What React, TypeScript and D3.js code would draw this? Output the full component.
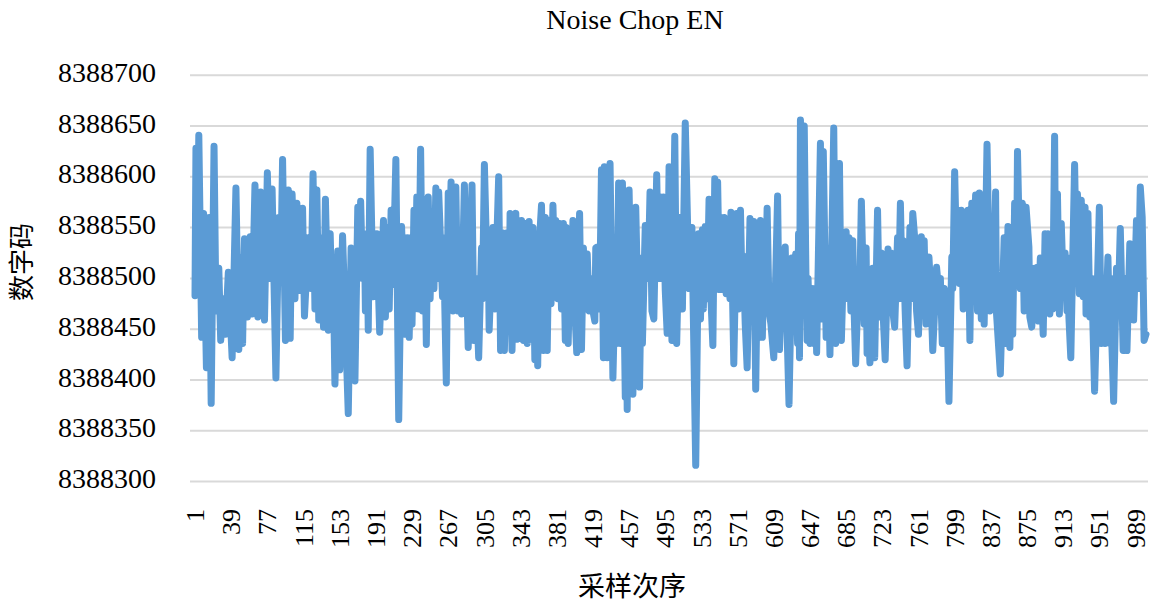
import React, { useRef, useEffect } from 'react';
import * as d3 from 'd3';

// sample index (x) and ADC code (y)
const sampleNo: number[] = [
  1, 2, 3, 5, 8, 10, 13, 16, 18, 21, 23, 26, 28, 31, 33, 36, 40, 44, 47, 49,
  51, 53, 56, 59, 61, 64, 67, 70, 74, 77, 80, 82, 86, 89, 91, 93, 96, 99, 101, 103,
  106, 108, 111, 114, 116, 120, 123, 125, 127, 129, 131, 134, 136, 138, 141, 143, 145, 146, 148, 151,
  153, 156, 162, 165, 169, 172, 173, 175, 177, 179, 180, 182, 183, 185, 188, 192, 195, 199, 201, 203,
  205, 207, 209, 212, 215, 218, 222, 224, 226, 228, 229, 231, 232, 234, 236, 238, 240, 242, 244, 246,
  248, 250, 252, 254, 256, 257, 261, 262, 265, 267, 268, 270, 272, 275, 277, 279, 281, 284, 288, 292,
  294, 296, 299, 302, 303, 305, 308, 309, 310, 314, 316, 320, 322, 324, 326, 329, 331, 332, 334, 336,
  338, 339, 341, 343, 344, 346, 348, 350, 352, 354, 356, 358, 359, 361, 363, 365, 367, 369, 371, 373,
  375, 377, 379, 380, 382, 384, 386, 388, 390, 391, 393, 395, 396, 398, 400, 402, 405, 407, 409, 411,
  413, 415, 417, 419, 421, 422, 424, 426, 428, 430, 431, 434, 437, 440, 443, 444, 446, 448, 450, 453,
  454, 455, 457, 461, 464, 468, 470, 471, 474, 477, 479, 481, 483, 486, 488, 490, 491, 493, 495, 497,
  499, 502, 505, 507, 510, 513, 516, 520, 523, 527, 530, 532, 534, 535, 537, 539, 541, 543, 545, 547,
  549, 550, 552, 553, 555, 557, 559, 561, 563, 564, 567, 570, 572, 574, 576, 577, 579, 581, 584, 586,
  588, 590, 592, 594, 595, 597, 599, 600, 602, 604, 606, 609, 613, 615, 618, 619, 621, 623, 625, 628,
  630, 632, 634, 635, 636, 637, 639, 641, 643, 644, 645, 647, 649, 651, 653, 654, 658, 659, 661, 664,
  666, 668, 672, 674, 678, 680, 683, 684, 685, 687, 688, 690, 692, 693, 695, 698, 699, 701, 704, 706,
  707, 708, 710, 713, 715, 718, 720, 722, 724, 726, 729, 731, 732, 734, 736, 739, 740, 742, 744, 745,
  747, 749, 752, 753, 755, 757, 759, 761, 764, 765, 767, 769, 772, 774, 776, 780, 782, 784, 786, 788,
  789, 791, 793, 796, 797, 799, 801, 802, 804, 806, 808, 810, 811, 813, 815, 817, 819, 821, 823, 825,
  827, 829, 830, 833, 836, 838, 840, 842, 843, 847, 851, 853, 855, 857, 859, 860, 862, 864, 865, 868,
  870, 872, 874, 877, 878, 880, 883, 885, 886, 887, 889, 892, 894, 896, 897, 899, 901, 902, 904, 905,
  907, 909, 911, 913, 915, 917, 918, 919, 921, 925, 927, 928, 930, 932, 934, 936, 937, 939, 941, 943,
  946, 951, 953, 955, 957, 960, 962, 963, 964, 966, 969, 971, 973, 976, 978, 980, 983, 987, 990, 992,
  994, 996, 998, 1000,
];

const codes: number[] = [
  8388483, 8388628, 8388490, 8388641, 8388442, 8388564, 8388412, 8388560, 8388377, 8388630, 8388468, 8388510, 8388439, 8388480, 8388445, 8388506, 8388422, 8388589, 8388430, 8388520,
  8388436, 8388539, 8388462, 8388541, 8388465, 8388592, 8388462, 8388585, 8388459, 8388604, 8388500, 8388588, 8388402, 8388560, 8388500, 8388617, 8388439, 8388587, 8388441, 8388583,
  8388480, 8388574, 8388488, 8388569, 8388463, 8388540, 8388490, 8388603, 8388470, 8388587, 8388459, 8388540, 8388452, 8388578, 8388449, 8388544, 8388470, 8388520, 8388396, 8388527,
  8388410, 8388542, 8388367, 8388530, 8388399, 8388570, 8388510, 8388576, 8388500, 8388544, 8388468, 8388520, 8388449, 8388627, 8388482, 8388544, 8388447, 8388557, 8388462, 8388550,
  8388470, 8388567, 8388494, 8388617, 8388361, 8388551, 8388445, 8388540, 8388442, 8388540, 8388455, 8388567, 8388470, 8388580, 8388470, 8388627, 8388468, 8388578, 8388435, 8388580,
  8388480, 8388560, 8388490, 8388589, 8388500, 8388585, 8388482, 8388540, 8388397, 8388584, 8388520, 8388595, 8388468, 8388590, 8388468, 8388510, 8388465, 8388592, 8388432, 8388592,
  8388439, 8388500, 8388422, 8388530, 8388480, 8388612, 8388500, 8388530, 8388449, 8388550, 8388470, 8388600, 8388429, 8388545, 8388429, 8388545, 8388470, 8388564, 8388429, 8388520,
  8388564, 8388440, 8388557, 8388480, 8388557, 8388439, 8388554, 8388436, 8388556, 8388440, 8388550, 8388420, 8388500, 8388414, 8388540, 8388572, 8388429, 8388560, 8388429, 8388557,
  8388475, 8388572, 8388500, 8388557, 8388480, 8388554, 8388470, 8388554, 8388439, 8388550, 8388436, 8388520, 8388470, 8388557, 8388470, 8388427, 8388564, 8388430, 8388530, 8388470,
  8388524, 8388468, 8388500, 8388468, 8388458, 8388530, 8388531, 8388470, 8388607, 8388422, 8388610, 8388422, 8388613, 8388402, 8388520, 8388436, 8388594, 8388436, 8388594, 8388383,
  8388500, 8388371, 8388587, 8388386, 8388570, 8388393, 8388520, 8388436, 8388552, 8388500, 8388585, 8388468, 8388460, 8388602, 8388500, 8388580, 8388500, 8388580, 8388488, 8388446,
  8388610, 8388439, 8388640, 8388436, 8388560, 8388470, 8388653, 8388490, 8388550, 8388316, 8388544, 8388460, 8388548, 8388470, 8388551, 8388480, 8388578, 8388480, 8388434, 8388598,
  8388500, 8388595, 8388489, 8388560, 8388489, 8388560, 8388485, 8388550, 8388480, 8388565, 8388416, 8388564, 8388470, 8388567, 8388475, 8388522, 8388455, 8388412, 8388559, 8388470,
  8388556, 8388391, 8388525, 8388442, 8388557, 8388442, 8388540, 8388468, 8388569, 8388468, 8388455, 8388422, 8388581, 8388430, 8388520, 8388468, 8388531, 8388446, 8388376, 8388520,
  8388470, 8388524, 8388436, 8388544, 8388422, 8388656, 8388540, 8388650, 8388485, 8388439, 8388500, 8388436, 8388490, 8388436, 8388490, 8388427, 8388633, 8388460, 8388625, 8388442,
  8388530, 8388425, 8388648, 8388436, 8388613, 8388439, 8388540, 8388490, 8388546, 8388480, 8388540, 8388468, 8388537, 8388480, 8388416, 8388500, 8388468, 8388576, 8388455, 8388530,
  8388426, 8388460, 8388417, 8388510, 8388422, 8388567, 8388462, 8388525, 8388462, 8388420, 8388529, 8388470, 8388525, 8388468, 8388452, 8388540, 8388480, 8388574, 8388480, 8388537,
  8388468, 8388414, 8388550, 8388480, 8388564, 8388540, 8388468, 8388445, 8388541, 8388480, 8388537, 8388455, 8388521, 8388485, 8388429, 8388511, 8388490, 8388500, 8388436, 8388490,
  8388436, 8388470, 8388379, 8388521, 8388490, 8388605, 8388520, 8388567, 8388495, 8388567, 8388470, 8388560, 8388500, 8388567, 8388439, 8388574, 8388500, 8388582, 8388468, 8388584,
  8388460, 8388520, 8388455, 8388632, 8388468, 8388540, 8388480, 8388585, 8388465, 8388406, 8388540, 8388436, 8388551, 8388432, 8388545, 8388445, 8388574, 8388500, 8388625, 8388490,
  8388574, 8388468, 8388570, 8388531, 8388462, 8388452, 8388510, 8388462, 8388511, 8388458, 8388520, 8388445, 8388544, 8388470, 8388544, 8388465, 8388525, 8388470, 8388640, 8388500,
  8388583, 8388465, 8388554, 8388494, 8388525, 8388468, 8388520, 8388462, 8388422, 8388612, 8388500, 8388583, 8388485, 8388577, 8388482, 8388570, 8388465, 8388564, 8388462, 8388500,
  8388389, 8388570, 8388436, 8388500, 8388436, 8388521, 8388436, 8388500, 8388440, 8388379, 8388510, 8388480, 8388549, 8388429, 8388500, 8388429, 8388534, 8388459, 8388557, 8388490,
  8388590, 8388560, 8388439, 8388445,
];

const xTickLabels: number[] = [
  1, 39, 77, 115, 153, 191, 229, 267, 305, 343, 381, 419, 457, 495, 533,
  571, 609, 647, 685, 723, 761, 799, 837, 875, 913, 951, 989,
];

const yTickLabels: number[] = [
  8388300, 8388350, 8388400, 8388450, 8388500, 8388550, 8388600, 8388650, 8388700,
];

const chartTitle = 'Noise Chop EN';
const xTitle = '采样次序';
const yTitle = '数字码';

const App: React.FC = () => {
  const svgRef = useRef<SVGSVGElement>(null);

  useEffect(() => {
    if (!svgRef.current) return;
    const svg = d3.select(svgRef.current);
    svg.selectAll('*').remove();

    const width = 1153;
    const height = 605;
    const plot = { left: 190, right: 1148, top: 75.2, bottom: 481.6 };
    const serif = '"Liberation Serif", "Times New Roman", serif';
    const cjk = '"Noto Sans CJK SC", sans-serif';

    const x = d3.scaleLinear().domain([1, 1000]).range([195, 1146]);
    const y = d3.scaleLinear().domain([8388300, 8388700]).range([plot.bottom, plot.top]);

    svg.append('rect').attr('width', width).attr('height', height).attr('fill', '#fff');

    // horizontal gridlines
    svg.append('g')
      .selectAll('line')
      .data(yTickLabels)
      .enter().append('line')
      .attr('x1', plot.left)
      .attr('x2', plot.right)
      .attr('y1', d => y(d))
      .attr('y2', d => y(d))
      .attr('stroke', '#d9d9d9')
      .attr('stroke-width', 2);

    // y tick labels
    svg.append('g')
      .selectAll('text')
      .data(yTickLabels)
      .enter().append('text')
      .attr('x', 156)
      .attr('y', d => y(d) + 6.5)
      .attr('text-anchor', 'end')
      .attr('font-family', serif)
      .attr('font-size', 28)
      .attr('fill', '#000')
      .text(d => d);

    // x tick labels, rotated
    svg.append('g')
      .selectAll('text')
      .data(xTickLabels)
      .enter().append('text')
      .attr('transform', d => `translate(${x(d)},509) rotate(-90)`)
      .attr('dy', '0.35em')
      .attr('text-anchor', 'end')
      .attr('font-family', serif)
      .attr('font-size', 26)
      .attr('fill', '#000')
      .text(d => d);

    // the series
    const points: [number, number][] = sampleNo.map((s, i) => [s, codes[i]]);
    const line = d3.line<[number, number]>()
      .x(d => x(d[0]))
      .y(d => y(d[1]));

    svg.append('path')
      .datum(points)
      .attr('d', line)
      .attr('fill', 'none')
      .attr('stroke', '#5b9bd5')
      .attr('stroke-width', 7)
      .attr('stroke-linejoin', 'round')
      .attr('stroke-linecap', 'round');

    // titles
    svg.append('text')
      .attr('x', 635)
      .attr('y', 29)
      .attr('text-anchor', 'middle')
      .attr('font-family', serif)
      .attr('font-size', 28)
      .text(chartTitle);

    svg.append('text')
      .attr('x', 632)
      .attr('y', 596)
      .attr('text-anchor', 'middle')
      .attr('font-family', cjk)
      .attr('font-size', 27)
      .text(xTitle);

    svg.append('text')
      .attr('transform', 'translate(22,262) rotate(-90)')
      .attr('dy', '0.35em')
      .attr('text-anchor', 'middle')
      .attr('font-family', cjk)
      .attr('font-size', 26)
      .text(yTitle);
  }, []);

  return (
    <svg
      ref={svgRef}
      width={1153}
      height={605}
      style={{ position: 'absolute', left: 0, top: 0, display: 'block' }}
    />
  );
};

export default App;
